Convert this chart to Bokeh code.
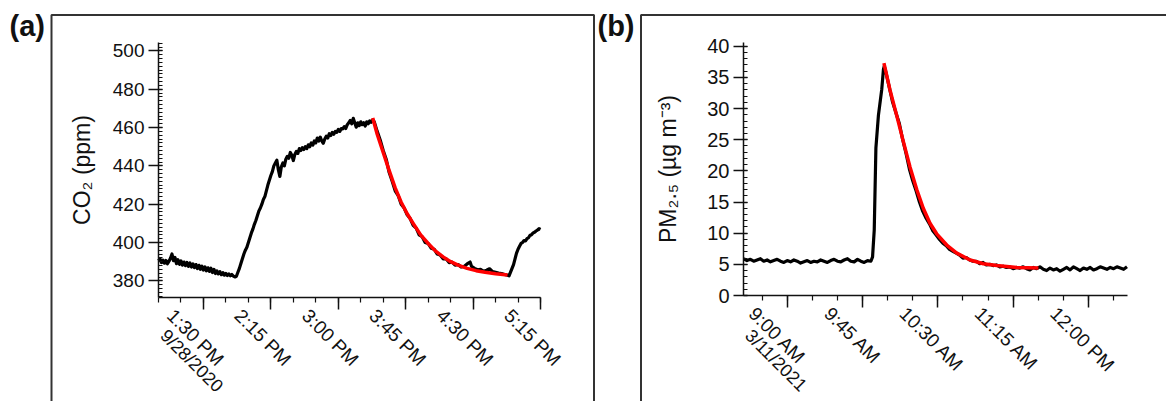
import math
from bokeh.plotting import figure
from bokeh.layouts import row
from bokeh.models import Range1d, LinearAxis, FixedTicker, Label, BoxAnnotation
from bokeh.embed import file_html
from bokeh.resources import INLINE

FONT = "Liberation Sans"
INK = "#111111"

# ---------------- (a) CO2, 9/28/2020 ----------------
a_start = "1:00 PM"   # minute 0 of a_co2_min
a_co2_min = [0, 1, 2, 3, 4, 5, 6, 7, 8, 9, 10, 11, 12, 13, 14, 15, 16, 17, 18, 19,
             20, 21, 22, 23, 24, 25, 26, 27, 28, 29, 30, 31, 32, 33, 34, 35, 36, 37, 38, 39,
             40, 41, 42, 43, 44, 45, 46, 47, 48, 49, 50, 51, 52, 53, 54, 55, 56, 57, 58, 59,
             60, 61, 62, 63, 64, 65, 66, 67, 68, 69, 70, 71, 72, 73, 74, 75, 76, 77, 78, 79,
             80, 81, 82, 83, 84, 85, 86, 87, 88, 89, 90, 91, 92, 93, 94, 95, 96, 97, 98, 99,
             100, 101, 102, 103, 104, 105, 106, 107, 108, 109, 110, 111, 112, 113, 114, 115, 116, 117, 118, 119,
             120, 121, 122, 123, 124, 125, 126, 127, 128, 129, 130, 131, 132, 133, 134, 135, 136, 137, 138, 139,
             140, 141, 142, 143, 144, 146, 148, 150, 152, 154, 156, 158, 160, 162, 164, 166, 168, 170, 172, 174,
             176, 178, 180, 182, 184, 186, 188, 190, 192, 194, 196, 198, 200, 202, 204, 206, 208, 209, 211, 213,
             215, 217, 219, 221, 223, 225, 227, 229, 231, 233, 234, 235, 236, 237, 238, 239, 240, 241, 242, 243,
             244, 245, 246, 247, 248, 249, 250, 251, 252, 253, 254, 255]
a_co2_ppm = [390.5, 391.5, 389.5, 390.8, 389.2, 390.6, 388.9, 390.2, 391.8, 394.0, 390.5, 392.2, 389.0, 391.0, 388.6, 390.4, 388.2, 389.8, 387.9, 389.6,
             387.5, 389.3, 387.2, 388.8, 386.9, 388.5, 386.4, 388.1, 386.0, 387.6, 385.6, 387.3, 385.2, 386.8, 384.9, 386.6, 384.3, 386.0, 383.8, 385.2,
             383.6, 384.8, 383.2, 384.3, 383.0, 383.9, 382.8, 383.6, 382.6, 383.3, 382.5, 382.0, 382.4, 384.5, 386.5, 389.0, 391.5, 394.0, 396.0, 397.5,
             400.0, 402.5, 405.0, 407.0, 409.5, 411.5, 414.0, 416.5, 418.0, 420.0, 422.5, 424.0, 427.0, 430.0, 432.5, 435.0, 437.0, 440.0, 441.5, 443.0,
             438.0, 434.5, 439.5, 441.5, 440.0, 443.5, 445.0, 444.0, 447.0, 445.5, 442.8, 446.0, 447.5, 446.5, 449.0, 448.0, 449.5, 448.5, 450.0, 449.0,
             451.0, 450.0, 452.0, 450.8, 453.0, 452.0, 454.5, 453.0, 455.0, 453.0, 451.8, 454.0, 455.5, 454.5, 456.8, 455.8, 457.5, 456.5, 458.0, 457.5,
             459.0, 458.0, 459.5, 459.3, 460.5, 459.5, 461.5, 462.5, 463.7, 462.0, 464.8, 462.5, 460.2, 462.5, 461.0, 463.0, 461.5, 462.5, 460.8, 463.0,
             462.0, 463.5, 462.8, 464.0, 463.0, 458.0, 453.5, 448.0, 443.5, 436.5, 432.0, 427.0, 424.5, 420.0, 418.0, 414.5, 412.5, 409.0, 407.5, 404.0,
             403.0, 400.0, 399.5, 397.0, 396.5, 394.0, 393.5, 391.5, 391.5, 389.5, 389.8, 388.2, 388.5, 387.2, 387.5, 388.8, 389.8, 387.5, 386.5, 385.8,
             386.0, 385.0, 385.5, 386.3, 384.8, 384.4, 384.0, 383.8, 383.3, 382.9, 382.6, 384.5, 386.5, 388.5, 391.5, 394.5, 396.5, 398.0, 399.5, 400.0,
             401.0, 400.8, 402.0, 402.5, 403.8, 404.0, 405.0, 405.3, 406.0, 406.5, 407.2, 406.8]
a_fit_min = [143, 146, 150, 154, 158, 162, 166, 170, 175, 180, 185, 190, 195, 200, 206, 212, 218, 225, 233]
a_fit_ppm = [465.0, 456.5, 447.0, 437.5, 428.5, 421.0, 415.0, 410.0, 404.0, 399.5, 395.5, 392.5, 390.0, 388.2, 386.5, 385.3, 384.5, 383.7, 383.0]
a_xtick_labels = ["1:30 PM", "2:15 PM", "3:00 PM", "3:45 PM", "4:30 PM", "5:15 PM"]
a_date_label = "9/28/2020"
a_yticks = [380, 400, 420, 440, 460, 480, 500]
a_ylabel = "CO₂ (ppm)"

# ---------------- (b) PM2.5, 3/11/2021 ----------------
b_start = "8:00 AM"   # minute 0 of b_pm_min
b_pm_min = [34, 36, 38, 40, 42, 44, 46, 48, 50, 52, 54, 56, 58, 60, 62, 64, 66, 68, 70, 72,
            74, 76, 78, 80, 82, 84, 86, 88, 90, 92, 94, 96, 98, 100, 102, 104, 106, 108, 110, 111,
            112, 113, 114.5, 116.5, 117.5, 118, 119, 121, 123, 125, 127, 129, 131, 133, 135, 137, 139, 141, 143, 145,
            147, 149, 151, 153, 155, 157, 159, 161, 163, 165, 167, 169, 171, 173, 175, 177, 179, 181, 183, 185,
            187, 189, 191, 193, 195, 197, 199, 201, 203, 205, 207, 209, 211, 213, 215, 217, 219, 221, 223, 225,
            227, 229, 231, 233, 235, 237, 239, 241, 243, 245, 247, 249, 251, 253, 255, 257, 259, 261, 263]
b_pm_ugm3 = [5.9, 5.6, 5.8, 5.5, 5.7, 5.9, 5.5, 5.7, 5.4, 5.6, 5.8, 5.5, 5.3, 5.6, 5.4, 5.7, 5.5, 5.2, 5.4, 5.6,
             5.3, 5.5, 5.4, 5.7, 5.5, 5.3, 5.6, 5.8, 5.5, 5.4, 5.7, 5.9, 5.5, 5.4, 5.8, 5.5, 5.3, 5.6, 5.5, 6.2,
             10.5, 23.7, 28.9, 33.1, 36.3, 36.8, 35.8, 33.4, 31.0, 29.3, 27.6, 25.0, 22.8, 20.3, 18.4, 16.8, 15.0, 13.5, 12.4, 11.5,
             10.4, 9.7, 9.0, 8.4, 8.0, 7.4, 7.1, 6.8, 6.5, 6.0, 6.1, 5.7, 5.5, 5.5, 5.1, 5.3, 4.9, 5.0, 4.8, 4.9,
             4.6, 4.7, 4.5, 4.6, 4.3, 4.5, 4.4, 4.6, 4.3, 4.1, 4.5, 4.3, 4.6, 4.2, 4.0, 4.4, 4.1, 4.3, 3.9, 4.2,
             4.5, 4.1, 4.6, 4.3, 4.0, 4.4, 4.2, 4.5, 4.1, 4.3, 4.6, 4.4, 4.2, 4.5, 4.3, 4.6, 4.4, 4.2, 4.6]
b_fit_min = [117.8, 121.4, 125.4, 129.4, 133.4, 137.4, 141.3, 145.3, 149.3, 155.3, 161.3, 169.3, 177.2, 185.2, 197.2, 210.1]
b_fit_ugm3 = [37.3, 33.0, 28.9, 24.7, 20.6, 17.0, 14.0, 11.6, 9.9, 8.1, 6.8, 5.7, 5.1, 4.8, 4.5, 4.4]
b_xtick_labels = ["9:00 AM", "9:45 AM", "10:30 AM", "11:15 AM", "12:00 PM"]
b_date_label = "3/11/2021"
b_yticks = [0, 5, 10, 15, 20, 25, 30, 35, 40]
b_ylabel = "PM₂.₅ (µg m⁻³)"


def clock(s):
    hm, ampm = s.split()
    h, m = (int(v) for v in hm.split(":"))
    return (h % 12 + (12 if ampm == "PM" else 0)) * 60 + m


H = 401  # canvas height of both panels


def make_panel(letter, start, t, v, ft, fv, xtick_labels, date_label, yticks, y_minor, ylabel,
               xlim, ylim, W, ax_l, ax_r, ax_t, ax_b, label_px, date_px, date_y,
               ytick_size, ylabel_standoff, box_l, box_r, box_t, letter_x):
    # data->pixel scales so that the axes occupy [ax_l, ax_r] x [ax_t, ax_b] of the canvas
    sx = (ax_r - ax_l) / (xlim[1] - xlim[0])
    sy = (ax_b - ax_t) / (ylim[1] - ylim[0])
    xr = (xlim[0] - ax_l / sx, xlim[1] + (W - ax_r) / sx)
    yr = (ylim[0] - (H - ax_b) / sy, ylim[1] + ax_t / sy)

    x0 = clock(start)
    xs = [x0 + m for m in t]
    fxs = [x0 + m for m in ft]
    p = figure(width=W, height=H, min_border=0,
               x_range=Range1d(*xr), y_range=Range1d(*yr),
               output_backend="svg", toolbar_location=None,
               background_fill_color="white", border_fill_color="white",
               outline_line_color=None)
    p.grid.visible = False

    p.line(xs, v, line_color="black", line_width=3.2, line_join="round")
    p.line(fxs, fv, line_color="#ff0000", line_width=3.5, line_join="round")

    # ---- y axis (held at the left end of the time range) ----
    ya = p.yaxis[0]
    ya.fixed_location = xlim[0]
    ya.bounds = ylim
    ya.ticker = FixedTicker(ticks=yticks, minor_ticks=y_minor)
    ya.axis_label = ylabel
    ya.axis_label_text_font = FONT
    ya.axis_label_text_font_size = "23px"
    ya.axis_label_text_font_style = "normal"
    ya.axis_label_text_color = INK
    ya.axis_label_standoff = ylabel_standoff
    ya.major_label_text_font = FONT
    ya.major_label_text_font_size = ytick_size
    ya.major_label_text_color = INK
    ya.major_label_standoff = 4
    ya.major_tick_out = 10
    ya.major_tick_in = 4
    ya.minor_tick_out = 0
    ya.minor_tick_in = 4

    # ---- x axis: line + ticks (labels drawn by a second axis) ----
    majors = [clock(s) for s in xtick_labels]
    m0 = math.ceil(xlim[0] / 15) * 15
    minors = list(range(m0, int(xlim[1]) + 1, 15))
    xa = p.xaxis[0]
    xa.fixed_location = ylim[0]
    xa.bounds = xlim
    xa.ticker = FixedTicker(ticks=majors, minor_ticks=minors)
    xa.major_label_text_color = None
    xa.major_tick_out = 12
    xa.major_tick_in = 0
    xa.minor_tick_out = 5
    xa.minor_tick_in = 0

    for a in (ya, xa):
        a.axis_line_width = 1.5
        a.axis_line_color = INK
        a.major_tick_line_width = 1.5
        a.major_tick_line_color = INK
        a.minor_tick_line_width = 1.2
        a.minor_tick_line_color = INK

    # rotated tick labels, hanging to the left of their ticks as in the original
    shift = label_px / sx
    p.extra_x_ranges = {"lab": Range1d(xr[0] + shift, xr[1] + shift)}
    la = LinearAxis(x_range_name="lab", fixed_location=ylim[0],
                    ticker=FixedTicker(ticks=majors, minor_ticks=[]),
                    major_label_overrides={m: s for m, s in zip(majors, xtick_labels)},
                    major_label_orientation=-math.pi / 4, major_label_standoff=15,
                    axis_line_color=None, major_tick_line_color=None, minor_tick_line_color=None,
                    major_tick_out=0, major_tick_in=0, minor_tick_out=0, minor_tick_in=0,
                    major_label_text_font=FONT, major_label_text_font_size="19px",
                    major_label_text_color=INK)
    p.add_layout(la, "below")

    # second line of the first tick label (the date)
    p.add_layout(Label(x=majors[0] - date_px / sx, y=H - date_y, x_units="data", y_units="screen",
                       text=date_label, angle=-math.pi / 4, text_align="left", text_baseline="top",
                       text_font=FONT, text_font_size="18px", text_color=INK))
    # panel letter and panel frame
    p.add_layout(Label(x=letter_x, y=H - 9, x_units="screen", y_units="screen", text=letter,
                       text_font=FONT, text_font_style="bold", text_font_size="29px",
                       text_align="left", text_baseline="top", text_color=INK))
    p.add_layout(BoxAnnotation(left=box_l, right=box_r, top=H - box_t, bottom=-60,
                               left_units="screen", right_units="screen",
                               top_units="screen", bottom_units="screen",
                               fill_color=None, fill_alpha=0,
                               line_color="#333333", line_alpha=1.0, line_width=2))
    return p


pa = make_panel("(a)", a_start, a_co2_min, a_co2_ppm, a_fit_min, a_fit_ppm,
                a_xtick_labels, a_date_label, a_yticks, list(range(372, 505, 2)), a_ylabel,
                xlim=(780, 1035), ylim=(371.3, 504.4), W=596,
                ax_l=158, ax_r=540, ax_t=42, ax_b=297,
                label_px=33, date_px=33, date_y=325,
                ytick_size="19px", ylabel_standoff=15,
                box_l=51, box_r=593.5, box_t=14.5, letter_x=9)
pb = make_panel("(b)", b_start, b_pm_min, b_pm_ugm3, b_fit_min, b_fit_ugm3,
                b_xtick_labels, b_date_label, b_yticks, list(range(0, 41)), b_ylabel,
                xlim=(513.9, 743.3), ylim=(0, 40.6), W=570,
                ax_l=147, ax_r=531, ax_t=42, ax_b=295,
                label_px=35, date_px=32, date_y=325,
                ytick_size="20px", ylabel_standoff=23,
                box_l=44.5, box_r=700, box_t=14.5, letter_x=1)

layout = row(pa, pb)
open("out.html", "w").write(file_html(layout, INLINE))
